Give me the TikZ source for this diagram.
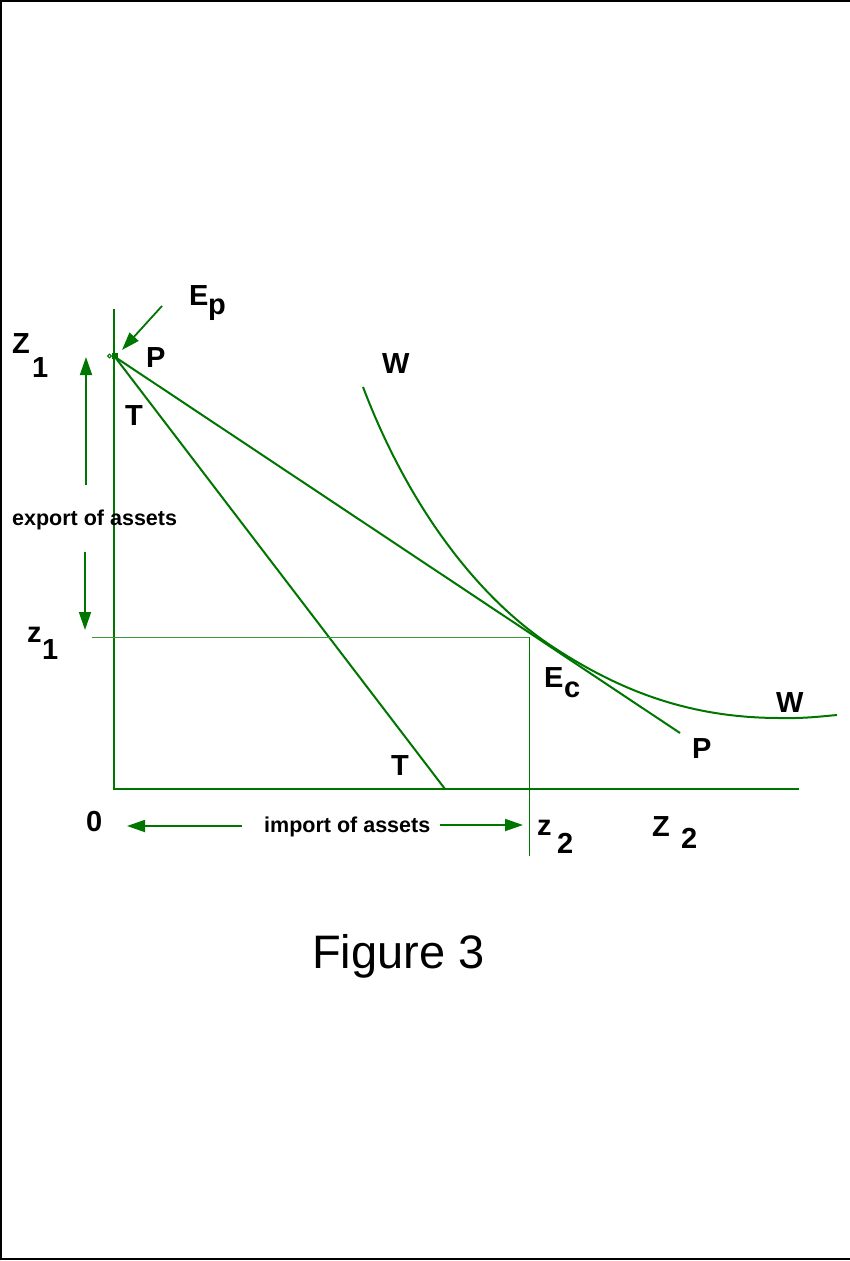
\documentclass[tikz,border=0pt]{standalone}
\usepackage{fontspec}
\setmainfont{Liberation Sans}
\usetikzlibrary{arrows.meta}
\definecolor{gr}{RGB}{0,118,0}
\definecolor{lgr}{RGB}{60,150,60}
\begin{document}
\begin{tikzpicture}[x=1pt,y=-1pt,
  gline/.style={draw=gr,line width=2pt},
  thinline/.style={line width=0.8pt},
  garrow/.style={draw=gr,line width=1.8pt,-{Triangle[length=18pt,width=12pt]},fill=gr},
  lab/.style={anchor=base west,inner sep=0pt,font=\bfseries\fontsize{29}{30}\selectfont},
  small/.style={anchor=base west,inner sep=0pt,font=\bfseries\fontsize{21.5}{22}\selectfont},
  big/.style={anchor=base west,inner sep=0pt,font=\fontsize{47}{48}\selectfont}]
\useasboundingbox (0,0) rectangle (850,1261);
% frame
\draw[line width=2pt] (850,1) -- (1,1) -- (1,1259) -- (850,1259);
% coordinates
\coordinate (ytop) at (114,309);
\coordinate (orig) at (114,789);
\coordinate (xend) at (799,789);
\coordinate (P0) at (115,357);
\coordinate (Tend) at (445,789);
\coordinate (Pend) at (680,733);
\coordinate (z1l) at (92,637);
\coordinate (Ec) at (529,637);
\coordinate (z2b) at (529,856);
% axes
\draw[gline] (ytop) -- (orig) -- (xend);
% budget lines
\draw[gline] (P0) -- (Tend);
\draw[gline] (P0) -- (Pend);
% point P marker
\fill[gr] (112,353) rectangle (118,359);
\draw[gr,line width=1pt] (109.5,356) circle (1.8pt);
% W curve
\coordinate (W0) at (363,387);
\coordinate (Wt) at (550,645);
\coordinate (W1) at (780,718);
\coordinate (W2) at (837,715);
\draw[gline] (W0) .. controls (409,508) and (478,597) .. (Wt)
  .. controls (622,693) and (693,718) .. (W1)
  .. controls (805,718.5) and (820,716.5) .. (W2);
% thin guide lines
\draw[thinline,draw=lgr] (z1l) -- (Ec);
\draw[thinline,draw=gr] (Ec) -- (z2b);
% arrows
\coordinate (a1s) at (86,485); \coordinate (a1e) at (86,357);
\coordinate (a2s) at (85,552); \coordinate (a2e) at (85,630);
\coordinate (a3s) at (162,306); \coordinate (a3e) at (122,350);
\coordinate (a4s) at (242,826); \coordinate (a4e) at (127,826);
\coordinate (a5s) at (440,825); \coordinate (a5e) at (523,825);
\draw[garrow] (a1s) -- (a1e);
\draw[garrow] (a2s) -- (a2e);
\draw[garrow] (a3s) -- (a3e);
\draw[garrow] (a4s) -- (a4e);
\draw[garrow] (a5s) -- (a5e);
% labels
\node[lab] (Zb) at (12,353) {Z};
\node[lab] (Zs) at (32,377) {1};
\node[lab] (Epb) at (189,305) {E};
\node[lab] (Eps) at (208,314) {p};
\node[lab] (Pl1) at (146,367) {P};
\node[lab] (Tl1) at (125,425) {T};
\node[lab] (Wl1) at (382,373) {W};
\node[lab] (zb) at (27,642) {z};
\node[lab] (zs) at (42,659) {1};
\node[small] (exp) at (12,525) {export of assets};
\node[lab] (Ecb) at (544,687) {E};
\node[lab] (Ecs) at (564,697) {c};
\node[lab] (Wl2) at (776,712) {W};
\node[lab] (Pl2) at (692,758) {P};
\node[lab] (Tl2) at (391,775) {T};
\node[lab] (zero) at (86,831) {0};
\node[small] (imp) at (264,832) {import of assets};
\node[lab] (z2z) at (537,835) {z};
\node[lab] (z2s) at (557,853) {2};
\node[lab] (Z2b) at (652,836) {Z};
\node[lab] (Z2s) at (681,848) {2};
\node[big] (fig) at (312,968) {Figure 3};
\end{tikzpicture}
\end{document}
